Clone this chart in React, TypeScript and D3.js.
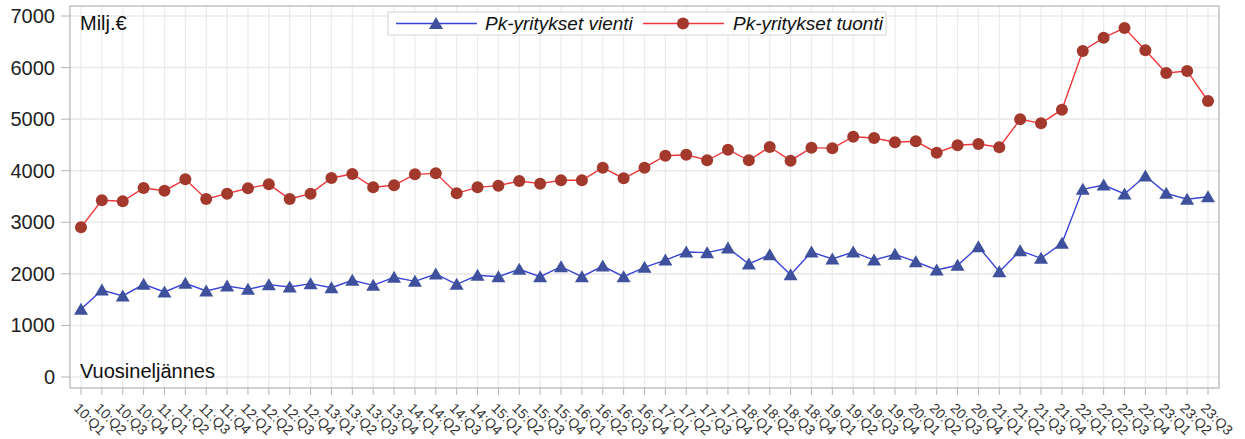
import * as d3 from "d3";

const years = ["10", "11", "12", "13", "14", "15", "16", "17", "18", "19", "20", "21", "22", "23"];
const quarters = ["Q1", "Q2", "Q3", "Q4"];
const periods = years.flatMap((y) => quarters.map((q) => `${y}:${q}`)).slice(0, 55);

const vienti = [
  1313, 1687, 1571, 1797, 1648, 1817, 1668, 1765, 1700, 1791, 1745, 1810, 1732, 1875, 1778, 1933,
  1855, 1997, 1797, 1972, 1945, 2088, 1945, 2139, 1945, 2152, 1945, 2127, 2268, 2424, 2411, 2501,
  2191, 2372, 1985, 2424, 2288, 2424, 2268, 2379, 2236, 2075, 2166, 2527, 2042, 2449, 2302, 2593,
  3640, 3723, 3549, 3898, 3562, 3446, 3496,
];

const tuonti = [
  2902, 3426, 3407, 3665, 3613, 3833, 3452, 3555, 3659, 3736, 3452, 3555, 3859, 3936, 3678, 3717,
  3930, 3949, 3562, 3678, 3710, 3801, 3749, 3814, 3814, 4059, 3852, 4059, 4291, 4311, 4202, 4408,
  4202, 4460, 4195, 4447, 4434, 4660, 4634, 4551, 4570, 4350, 4493, 4518, 4454, 4997, 4919, 5183,
  6321, 6580, 6767, 6335, 5895, 5934, 5352,
];

const yTicks = [0, 1000, 2000, 3000, 4000, 5000, 6000, 7000];
const seriesNames = ["Pk-yritykset vienti", "Pk-yritykset tuonti"];

const W = 1245;
const H = 439;
const plot = { left: 70, right: 1219, top: 6, bottom: 388 };
const font = "Arial, 'Liberation Sans', sans-serif";

const blueLine = "#3a44d8";
const blueMark = "#3f519c";
const redLine = "#f0363a";
const redMark = "#a2392c";

// triangle marker, bbox centred on the point
const tri = "M0,-6.5L7,5.5L-7,5.5Z";

export default function App() {
  const x = d3.scalePoint<string>().domain(periods).range([81, 1208]);
  const y = d3.scaleLinear().domain([0, 7000]).range([377, 16]);

  const line = d3
    .line<number>()
    .x((_, i) => x(periods[i])!)
    .y((d) => y(d));

  return (
    <svg
      width={W}
      height={H}
      style={{ position: "absolute", left: 0, top: 0, background: "#fff" }}
      fontFamily={font}
    >
      {/* grid */}
      {periods.map((p) => (
        <line key={"gx" + p} x1={x(p)} x2={x(p)} y1={plot.top} y2={plot.bottom} stroke="#ebebeb" strokeWidth={1.2} />
      ))}
      {yTicks.map((t) => (
        <line key={"gy" + t} x1={plot.left} x2={plot.right} y1={y(t)} y2={y(t)} stroke="#ebebeb" strokeWidth={1.6} />
      ))}
      <rect
        x={plot.left}
        y={plot.top}
        width={plot.right - plot.left}
        height={plot.bottom - plot.top}
        fill="none"
        stroke="#b0b4b9"
        strokeWidth={1.2}
      />

      {/* y axis */}
      {yTicks.map((t) => (
        <g key={"yt" + t}>
          <line x1={61} x2={plot.left} y1={y(t)} y2={y(t)} stroke="#b0b4b9" />
          <text x={55} y={y(t) + 7} textAnchor="end" fontSize={20} fill="#222">
            {t}
          </text>
        </g>
      ))}

      {/* x axis */}
      {periods.map((p) => (
        <g key={"xt" + p}>
          <line x1={x(p)} x2={x(p)} y1={plot.bottom} y2={plot.bottom + 7} stroke="#b0b4b9" />
          <text
            transform={`translate(${x(p)! - 8},${409}) rotate(45)`}
            fontSize={14}
            fill="#333"
          >
            {p}
          </text>
        </g>
      ))}

      <text x={80} y={30} fontSize={20} fill="#111">Milj.€</text>
      <text x={80} y={378} fontSize={20} fill="#111">Vuosineljännes</text>

      {/* series */}
      <path d={line(vienti) ?? ""} fill="none" stroke={blueLine} strokeWidth={1.4} />
      <path d={line(tuonti) ?? ""} fill="none" stroke={redLine} strokeWidth={1.4} />
      {vienti.map((v, i) => (
        <path key={"v" + i} d={tri} transform={`translate(${x(periods[i])},${y(v)})`} fill={blueMark} />
      ))}
      {tuonti.map((v, i) => (
        <circle key={"t" + i} cx={x(periods[i])} cy={y(v)} r={6} fill={redMark} />
      ))}

      {/* legend */}
      <rect x={388} y={12} width={498} height={23} fill="#fff" stroke="#d4d4d4" />
      <line x1={396} x2={477} y1={23.5} y2={23.5} stroke={blueLine} strokeWidth={1.4} />
      <path d={tri} transform="translate(436,23.5)" fill={blueMark} />
      <text x={485} y={30} fontSize={19} fontStyle="italic" fill="#111">{seriesNames[0]}</text>
      <line x1={643} x2={724} y1={23.5} y2={23.5} stroke={redLine} strokeWidth={1.4} />
      <circle cx={683} cy={23.5} r={6} fill={redMark} />
      <text x={733} y={30} fontSize={19} fontStyle="italic" fill="#111">{seriesNames[1]}</text>
    </svg>
  );
}
